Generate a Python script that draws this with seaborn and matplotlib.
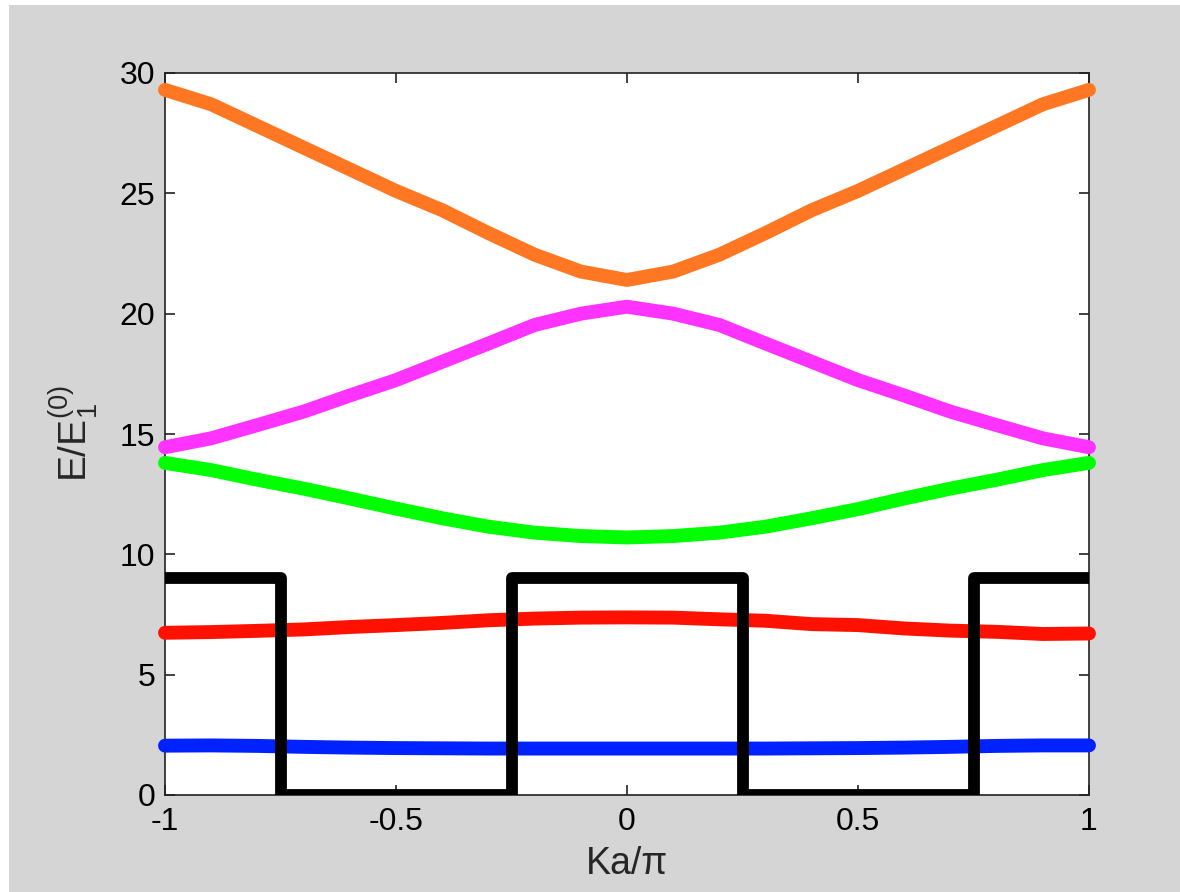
import matplotlib
matplotlib.use("Agg")
import matplotlib.pyplot as plt
from matplotlib.patches import Rectangle
import seaborn as sns

# wave vector Ka/pi
k = [-1.0, -0.9, -0.8, -0.7, -0.6, -0.5, -0.4, -0.3, -0.2, -0.1, 0.0,
     0.1, 0.2, 0.3, 0.4, 0.5, 0.6, 0.7, 0.8, 0.9, 1.0]

# energy bands E/E1(0)
band1 = [2.05, 2.06, 2.04, 2.0, 1.97, 1.95, 1.94, 1.93, 1.93, 1.93, 1.93,
         1.93, 1.93, 1.93, 1.94, 1.95, 1.97, 2.0, 2.04, 2.06, 2.06]
band2 = [6.74, 6.77, 6.82, 6.88, 6.98, 7.06, 7.15, 7.26, 7.33, 7.37, 7.38,
         7.37, 7.3, 7.24, 7.1, 7.06, 6.92, 6.83, 6.78, 6.69, 6.71]
band3 = [13.8, 13.5, 13.1, 12.73, 12.32, 11.9, 11.5, 11.15, 10.9, 10.76, 10.7,
         10.76, 10.9, 11.15, 11.5, 11.88, 12.32, 12.73, 13.1, 13.5, 13.8]
band4 = [14.45, 14.82, 15.37, 15.93, 16.6, 17.24, 18.0, 18.76, 19.53, 20.0, 20.29,
         20.0, 19.53, 18.76, 18.0, 17.24, 16.6, 15.93, 15.37, 14.82, 14.45]
band5 = [29.3, 28.7, 27.8, 26.9, 26.0, 25.1, 24.3, 23.35, 22.45, 21.75, 21.4,
         21.75, 22.45, 23.35, 24.3, 25.1, 26.0, 26.9, 27.8, 28.7, 29.3]

band_colors = ["#0022ff", "#ff1100", "#00ff00", "#ff33ff", "#ff7722"]

# periodic potential (square wave)
pot_x = [-1.0, -0.75, -0.75, -0.25, -0.25, 0.25, 0.25, 0.75, 0.75, 1.0]
pot_y = [9, 9, 0, 0, 9, 9, 0, 0, 9, 9]

sns.set_style("ticks")
plt.rcParams['font.family'] = ['Liberation Sans', 'DejaVu Sans']
plt.rcParams['mathtext.fontset'] = 'custom'
plt.rcParams['mathtext.rm'] = 'Liberation Sans'
plt.rcParams['mathtext.it'] = 'Liberation Sans'

fig = plt.figure(figsize=(11.8, 8.92), dpi=100)
fig.patch.set_facecolor("white")
# gray MATLAB-like figure background, kept behind the axes
fig.patches.append(Rectangle((9 / 1180, 0), 1, (892 - 5) / 892,
                             transform=fig.transFigure, facecolor="#d5d5d5",
                             edgecolor="none", zorder=-10))

ax = fig.add_axes([165 / 1180, 97 / 892, 924 / 1180, 722 / 892])
ax.set_facecolor("white")

for band, col in zip([band1, band2, band3, band4, band5], band_colors):
    sns.lineplot(x=k, y=band, color=col, linewidth=10, ax=ax,
                 solid_capstyle="round", clip_on=False, zorder=3)

sns.lineplot(x=pot_x, y=pot_y, sort=False, estimator=None, color="black",
             linewidth=8.5, ax=ax, solid_joinstyle="round", zorder=4)

ax.set_xlim(-1, 1)
ax.set_ylim(0, 30)
ax.set_xticks([-1, -0.5, 0, 0.5, 1])
ax.set_xticklabels(["-1", "-0.5", "0", "0.5", "1"])
ax.set_yticks([0, 5, 10, 15, 20, 25, 30])

for s in ax.spines.values():
    s.set_visible(True)
    s.set_linewidth(1.2)
    s.set_color("#222222")

ax.tick_params(direction="in", length=7, width=1.2, top=True, right=True,
               labelsize=23, colors="#222222", labelcolor="black")
ax.tick_params(axis="x", pad=9)
ax.tick_params(axis="y", pad=7)

ax.set_xlabel("Ka/π", fontsize=27, labelpad=6)
ax.set_ylabel(r"E/E$_1^{(0)}$", fontsize=28, labelpad=14)

fig.savefig("out.png", dpi=100, facecolor=fig.get_facecolor())
